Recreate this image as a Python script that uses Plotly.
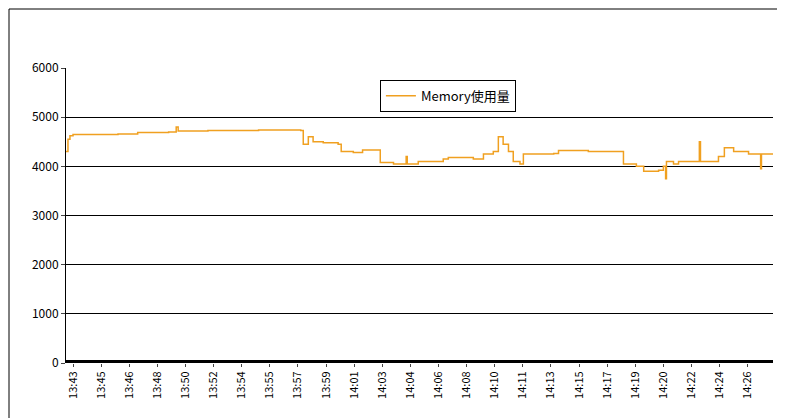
import plotly.graph_objects as go

tick_labels = ["13:43","13:45","13:46","13:48","13:50","13:52","13:54","13:55","13:57","13:59",
               "14:01","14:03","14:04","14:06","14:08","14:10","14:11","14:13","14:15","14:17",
               "14:19","14:20","14:22","14:24","14:26"]
tick_pos = [i*10 for i in range(len(tick_labels))]

x_idx = [-2.5,-1.8,-1.1,0,16,23,34,36.7,37.4,48,66,81,81.9,83.7,85.4,89,94.3,95.4,99.7,103,
         109.3,114,118.5,118.9,122.8,131.7,133.5,142.4,146,149.5,151.3,153,154.9,156.6,159,160.2,
         171,172.7,183.3,194.7,195.8,200.4,203,208.3,210,210.8,211.1,213.6,215.4,222.5,222.8,223.2,
         227.8,229.6,231.7,235,240.3,244.2,244.6,244.9,249]
memory = [4300,4550,4620,4650,4660,4690,4700,4800,4720,4730,4740,4730,4450,4600,4500,4480,4450,4300,4280,4330,
          4080,4050,4200,4050,4100,4150,4180,4150,4250,4300,4600,4450,4300,4100,4050,4250,
          4260,4320,4300,4300,4050,4000,3900,3920,4000,3750,4100,4050,4100,4100,4500,4100,
          4100,4200,4380,4300,4250,4250,3950,4250,4250]

fig = go.Figure()
fig.add_trace(go.Scatter(x=x_idx, y=memory, mode="lines", line=dict(color="#F0A020", width=1.5, shape="hv"),
                         name="Memory使用量", showlegend=True))
fig.update_layout(
    width=785, height=418, paper_bgcolor="white", plot_bgcolor="white",
    margin=dict(l=58, r=20, t=60, b=63),
    font=dict(family="Noto Sans CJK JP", size=12, color="black"),
    showlegend=True,
    legend=dict(x=0.444, y=0.96, xanchor="left", yanchor="top", bordercolor="black", borderwidth=1,
                bgcolor="white", font=dict(size=13)),
    xaxis=dict(range=[-2.5, 249], tickvals=tick_pos, ticktext=tick_labels, tickangle=-90,
               showgrid=False, zeroline=False, showline=False, ticks="outside", ticklen=3,
               automargin=False, tickfont=dict(size=11, family="Noto Sans CJK JP")),
    yaxis=dict(range=[0, 6000], tickvals=[0,1000,2000,3000,4000,5000,6000], showgrid=True,
               gridcolor="black", gridwidth=1, zeroline=False, showline=True, linecolor="black",
               ticks="outside", ticklen=4, automargin=False, tickfont=dict(size=12)),
)
fig.add_shape(type="line", xref="paper", yref="y", x0=0, x1=1, y0=0, y1=0, line=dict(color="black", width=6))
fig.add_shape(type="rect", xref="paper", yref="paper", x0=-57/707, x1=1+19/707, y0=-62/295, y1=1+59/295,
              line=dict(color="black", width=1))
fig.write_html("out.html")
